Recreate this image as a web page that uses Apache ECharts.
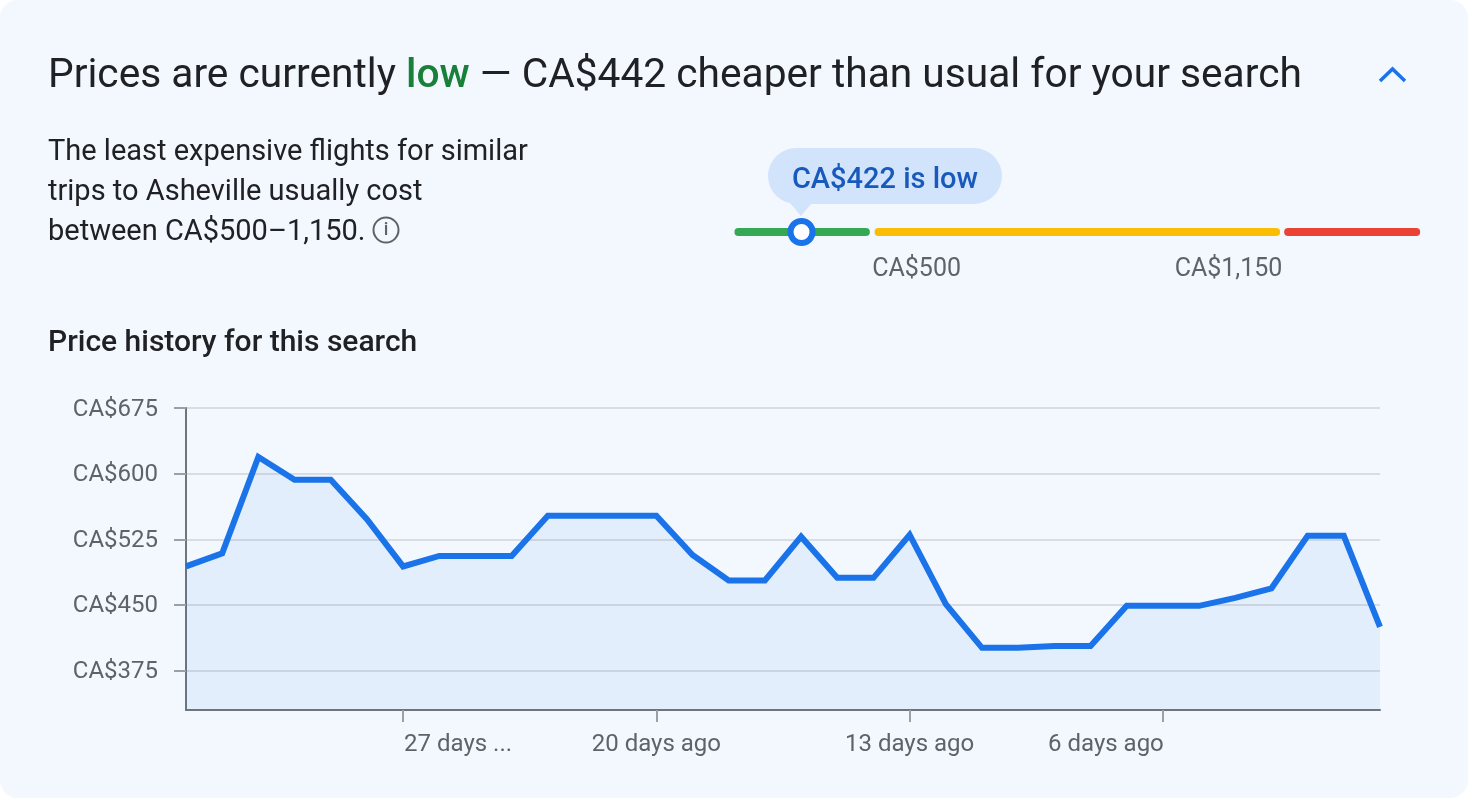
<!DOCTYPE html>
<html><head><meta charset="utf-8">
<style>
html,body{margin:0;padding:0;background:#fff;width:1468px;height:798px;overflow:hidden}
#panel{position:absolute;left:0;top:0;width:1468px;height:798px;background:#f3f8ff;border-radius:18px}
#c{position:absolute;left:0;top:0;width:1468px;height:798px}
</style></head><body><div id="panel"></div><div id="c"></div>
<script src="https://cdn.jsdelivr.net/npm/echarts@6/dist/echarts.min.js"></script>
<script>
const dayLabels = {6:'27 days ...',13:'20 days ago',20:'13 days ago',27:'6 days ago'};
const days = ['33 days ago','32 days ago','31 days ago','30 days ago','29 days ago','28 days ago','27 days ...','26 days ago','25 days ago','24 days ago','23 days ago','22 days ago','21 days ago','20 days ago','19 days ago','18 days ago','17 days ago','16 days ago','15 days ago','14 days ago','13 days ago','12 days ago','11 days ago','10 days ago','9 days ago','8 days ago','7 days ago','6 days ago','5 days ago','4 days ago','3 days ago','2 days ago','1 day ago','today'];
const prices = [494,509,619,593,593,548,494,506,506,506,552,552,552,552,507,478,478,528,481,481,530,451,401,401,403,403,449,449,449,458,469,529,529,425];
const priceTicks = [375,450,525,600,675];
const greenRange = [288,490];
const yellowRange = [510,1140];
const redRange = [1159,1362];
const rangeTicks = [500,1150];
const markerPosition = [388];
const FONT = 'Roboto';
const GREY = '#5f6368';

const chart = echarts.init(document.getElementById('c'), null, {width:1468,height:798});
const seg = (r,color)=>({type:'line',xAxisIndex:1,yAxisIndex:1,data:[[r[0],0],[r[1],0]],showSymbol:false,silent:true,
  lineStyle:{color,width:8,cap:'round'}});
chart.setOption({
  animation:false,
  tooltip:{show:false},
  grid:[
    {left:186,top:408,width:1194,height:302,containLabel:false},
    {left:734,top:212,width:686,height:40}
  ],
  xAxis:[
    {type:'category',gridIndex:0,data:days,boundaryGap:false,
     axisLine:{lineStyle:{color:'#70757a',width:2}},
     axisTick:{alignWithLabel:true,length:12,interval:i=>i in dayLabels,lineStyle:{color:'#9aa0a6',width:2}},
     axisLabel:{interval:i=>i in dayLabels,margin:23,
       formatter:(v,i)=>i===6?'{l|'+v+'}':i===27?'{r|'+v+'}':'{c|'+v+'}',
       rich:{
         c:{fontFamily:FONT,fontSize:24,color:GREY},
         l:{fontFamily:FONT,fontSize:24,color:GREY,padding:[0,0,0,110]},
         r:{fontFamily:FONT,fontSize:24,color:GREY,padding:[0,114,0,0]}
       }},
     splitLine:{show:false}},
    {type:'value',gridIndex:1,min:281,max:1368,show:false}
  ],
  yAxis:[
    {type:'value',gridIndex:0,min:330,max:675,
     axisLine:{show:true,lineStyle:{color:'#70757a',width:2}},
     axisTick:{show:true,length:12,customValues:priceTicks,lineStyle:{color:'#9aa0a6',width:2}},
     axisLabel:{customValues:priceTicks,margin:28,formatter:v=>'{a|CA$'+v+'}',
       rich:{a:{fontFamily:FONT,fontSize:24,color:GREY,padding:[3,0,0,0]}}},
     splitLine:{show:true,lineStyle:{color:'#dadce0',width:2}}},
    {type:'value',gridIndex:1,min:-1,max:1,show:false}
  ],
  series:[
    {type:'line',xAxisIndex:0,yAxisIndex:0,data:prices,showSymbol:false,silent:true,clip:true,
     lineStyle:{color:'#1a73e8',width:6,join:'miter',cap:'butt'},
     areaStyle:{color:'rgba(26,115,232,0.1)'}},
    seg(greenRange,'#34a853'),seg(yellowRange,'#fbbc04'),seg(redRange,'#ea4335'),
    {type:'scatter',xAxisIndex:1,yAxisIndex:1,symbolSize:1,silent:true,itemStyle:{color:'transparent',opacity:1},
     data:rangeTicks.map((v,i)=>({value:[v,0],label:{show:true,position:'inside',
       formatter:'CA$'+v.toLocaleString('en-US'),fontFamily:FONT,fontSize:25,color:GREY,
       align:i?'right':'left',verticalAlign:'middle',offset:[0,38]}}))},
    {type:'scatter',xAxisIndex:1,yAxisIndex:1,symbolSize:22,silent:true,z:5,
     data:markerPosition.map(v=>[v,0]),
     itemStyle:{color:'#fff',borderColor:'#1a73e8',borderWidth:6,opacity:1}}
  ],
  graphic:[
    {type:'text',x:48,y:77,style:{fontFamily:FONT,fontSize:40.7,fill:'#202124',verticalAlign:'middle',
      rich:{g:{fontFamily:FONT,fontSize:40.7,fill:'#188038',fontWeight:500},n:{fontFamily:FONT,fontSize:40.7,fill:'#202124'}},
      text:'{n|Prices are currently }{g|low}{n| — CA$442 cheaper than usual for your search}'}},
    {type:'polyline',shape:{points:[[1380,81],[1392.5,69],[1405,81]]},style:{stroke:'#1a73e8',lineWidth:3.5,fill:null}},
    {type:'text',x:48,y:153,style:{fontFamily:FONT,fontSize:29,fill:'#202124',verticalAlign:'middle',text:'The least expensive flights for similar'}},
    {type:'text',x:48,y:193,style:{fontFamily:FONT,fontSize:29,fill:'#202124',verticalAlign:'middle',text:'trips to Asheville usually cost'}},
    {type:'text',x:48,y:233,style:{fontFamily:FONT,fontSize:29,fill:'#202124',verticalAlign:'middle',text:'between CA$500–1,150.'}},
    {type:'circle',shape:{cx:386,cy:230,r:12.5},style:{stroke:GREY,lineWidth:2,fill:null}},
    {type:'text',x:386,y:230,style:{fontFamily:FONT,fontSize:18,fontWeight:500,fill:GREY,text:'i',align:'center',verticalAlign:'middle'}},
    {type:'text',x:48,y:343,style:{fontFamily:FONT,fontSize:30,fontWeight:500,fill:'#202124',verticalAlign:'middle',text:'Price history for this search'}},
    {type:'rect',shape:{x:768,y:148,width:234,height:56,r:28},style:{fill:'#d2e3fc'}},
    {type:'polygon',shape:{points:[[790,203],[812,203],[801,216]]},style:{fill:'#d2e3fc'}},
    {type:'text',x:885,y:181,style:{fontFamily:FONT,fontSize:29,fontWeight:500,fill:'#185abc',text:'CA$422 is low',align:'center',verticalAlign:'middle'}}
  ]
});
</script></body></html>
